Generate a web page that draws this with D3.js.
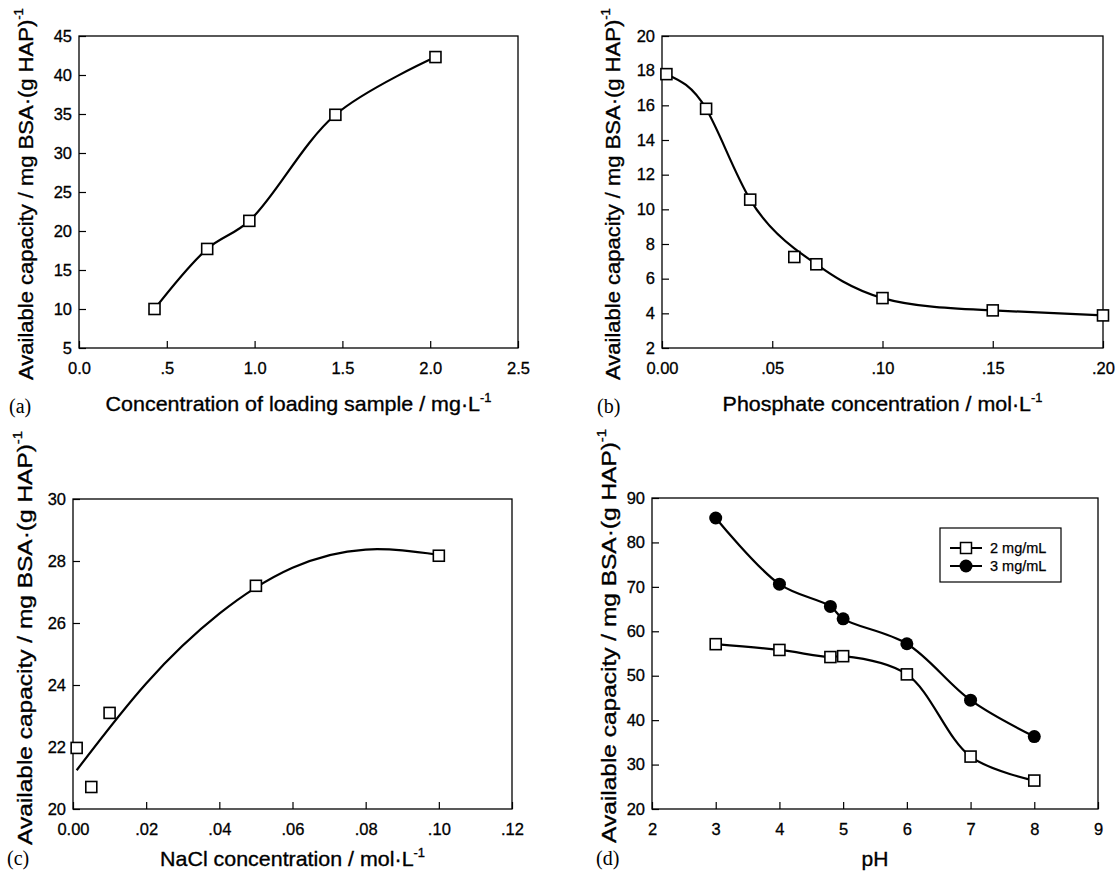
<!DOCTYPE html>
<html><head><meta charset="utf-8">
<script src="https://cdn.jsdelivr.net/npm/d3@7"></script>
<style>body{margin:0;background:#fff}text{font-family:"Liberation Sans",Arial,sans-serif;fill:#000}</style>
</head><body>
<svg id="chart" width="1117" height="877"></svg>
<script>
// ---------- DATA ----------
// (a) loading sample concentration
const aX = [0.43, 0.73, 0.97, 1.46, 2.03];
const aY = [10.0, 17.7, 21.3, 34.9, 42.3];
const aXTicks = [0, 0.5, 1.0, 1.5, 2.0, 2.5];
const aXLabels = ["0.0", ".5", "1.0", "1.5", "2.0", "2.5"];
const aYTicks = [5, 10, 15, 20, 25, 30, 35, 40, 45];

// (b) phosphate concentration
const bX = [0.002, 0.02, 0.04, 0.06, 0.07, 0.10, 0.15, 0.20];
const bY = [17.8, 15.8, 10.56, 7.25, 6.83, 4.88, 4.17, 3.88];
const bFitX = [0.002, 0.02, 0.04, 0.06, 0.07, 0.10, 0.15, 0.20];
const bFitY = [17.8, 15.8, 10.56, 7.75, 6.83, 4.88, 4.17, 3.88];
const bXTicks = [0, 0.05, 0.10, 0.15, 0.20];
const bXLabels = ["0.00", ".05", ".10", ".15", ".20"];
const bYTicks = [2, 4, 6, 8, 10, 12, 14, 16, 18, 20];

// (c) NaCl concentration
const cX = [0.001, 0.005, 0.01, 0.05, 0.10];
const cY = [21.97, 20.71, 23.10, 27.2, 28.17];
const cFitX = [0.001, 0.02, 0.04, 0.06, 0.08, 0.10];
const cFitY = [21.25, 24.05, 26.3, 27.78, 28.37, 28.2];
const cXTicks = [0, 0.02, 0.04, 0.06, 0.08, 0.10, 0.12];
const cXLabels = ["0.00", ".02", ".04", ".06", ".08", ".10", ".12"];
const cYTicks = [20, 22, 24, 26, 28, 30];

// (d) pH
const dX = [3, 4, 4.8, 5, 6, 7, 8];
const d2Y = [57.1, 55.8, 54.2, 54.4, 50.3, 31.8, 26.4];   // 2 mg/mL
const d3Y = [85.5, 70.6, 65.6, 62.8, 57.2, 44.5, 36.3];   // 3 mg/mL
const dSeries = ["2 mg/mL", "3 mg/mL"];
const dXTicks = [2, 3, 4, 5, 6, 7, 8, 9];
const dXLabels = ["2", "3", "4", "5", "6", "7", "8", "9"];
const dYTicks = [20, 30, 40, 50, 60, 70, 80, 90];

const yTitle = "Available capacity / mg BSA\u00B7(g HAP)";

// ---------- DRAW ----------
const svg = d3.select("#chart");
const FONT = '"Liberation Sans",Arial,sans-serif';

function scaledText(parent, str, sup, size, targetW, tx, ty, rot, anchor, dy) {
  const t = parent.append("text").attr("font-size", size).attr("text-anchor", anchor || "middle")
    .attr("stroke", "#000").attr("stroke-width", 0.35);
  if (dy) t.attr("dy", dy);
  t.append("tspan").text(str);
  if (sup) t.append("tspan").attr("font-size", size * 0.6).attr("dy", -size * 0.45).text(sup);
  const w = t.node().getBBox().width;
  const s = targetW ? targetW / w : 1;
  t.attr("transform", `translate(${tx},${ty})` + (rot ? ` rotate(${rot})` : "") + ` scale(${s},1)`);
  return t;
}

function panel(cfg) {
  const g = svg.append("g");
  const x = d3.scaleLinear().domain(cfg.xDomain).range([cfg.x0, cfg.x1]);
  const y = d3.scaleLinear().domain(cfg.yDomain).range([cfg.y1, cfg.y0]);

  const xa = g.append("g").attr("transform", `translate(0,${cfg.y1})`)
    .call(d3.axisBottom(x).tickValues(cfg.xTicks).tickFormat((d, i) => cfg.xLabels[i])
      .tickSizeInner(-7).tickSizeOuter(0).tickPadding(14));
  xa.select(".domain").remove();
  xa.selectAll("line").attr("stroke", "#000").attr("stroke-width", 1.2);
  xa.selectAll("text").attr("font-size", 16.5).attr("font-family", FONT)
    .attr("stroke", "#000").attr("stroke-width", 0.3);

  const ya = g.append("g").attr("transform", `translate(${cfg.x0},0)`)
    .call(d3.axisLeft(y).tickValues(cfg.yTicks).tickFormat(d3.format("d"))
      .tickSizeInner(-7).tickSizeOuter(0).tickPadding(7));
  ya.select(".domain").remove();
  ya.selectAll("line").attr("stroke", "#000").attr("stroke-width", 1.2);
  ya.selectAll("text").attr("font-size", 16.5).attr("font-family", FONT)
    .attr("stroke", "#000").attr("stroke-width", 0.3);

  g.append("rect").attr("x", cfg.x0).attr("y", cfg.y0)
    .attr("width", cfg.x1 - cfg.x0).attr("height", cfg.y1 - cfg.y0)
    .attr("fill", "none").attr("stroke", "#000").attr("stroke-width", 1.3);

  // titles
  scaledText(g, cfg.xTitle, cfg.xSup, 21, cfg.xTitleW, (cfg.x0 + cfg.x1) / 2, cfg.xTitleY, 0, "middle");
  scaledText(g, yTitle, "-1", 21, cfg.yTitleW, cfg.yTitleX, cfg.yTitleY, -90, "middle", "0.36em");
  g.append("text").attr("x", cfg.labX).attr("y", cfg.labY).attr("font-size", 20)
    .style("font-family", '"Liberation Serif","Times New Roman",serif').text(cfg.label);

  return { g, x, y };
}

function drawLine(p, xs, ys, curve) {
  const pts = xs.map((v, i) => [v, ys[i]]);
  p.g.append("path").attr("d", d3.line().x(d => p.x(d[0])).y(d => p.y(d[1])).curve(curve)(pts))
    .attr("fill", "none").attr("stroke", "#000").attr("stroke-width", 2.2);
}
function drawSquares(p, xs, ys, sz) {
  sz = sz || 11;
  p.g.append("g").selectAll("rect").data(xs.map((v, i) => [v, ys[i]])).join("rect")
    .attr("x", d => p.x(d[0]) - sz / 2).attr("y", d => p.y(d[1]) - sz / 2)
    .attr("width", sz).attr("height", sz).attr("fill", "#fff").attr("stroke", "#000").attr("stroke-width", 1.6);
}
function drawCircles(p, xs, ys) {
  p.g.append("g").selectAll("circle").data(xs.map((v, i) => [v, ys[i]])).join("circle")
    .attr("cx", d => p.x(d[0])).attr("cy", d => p.y(d[1])).attr("r", 6.5).attr("fill", "#000");
}

// (a)
const pa = panel({ x0: 79, x1: 518, y0: 36, y1: 348, xDomain: [0, 2.5], yDomain: [5, 45],
  xTicks: aXTicks, xLabels: aXLabels, yTicks: aYTicks,
  xTitle: "Concentration of loading sample / mg\u00B7L", xSup: "-1", xTitleW: 386, xTitleY: 411,
  yTitleW: 372, yTitleX: 25, yTitleY: 194, label: "(a)", labX: 9, labY: 413 });
drawLine(pa, aX, aY, d3.curveCatmullRom.alpha(0.5));
drawSquares(pa, aX, aY);

// (b)
const pb = panel({ x0: 662, x1: 1103, y0: 36, y1: 348, xDomain: [0, 0.20], yDomain: [2, 20],
  xTicks: bXTicks, xLabels: bXLabels, yTicks: bYTicks,
  xTitle: "Phosphate concentration / mol\u00B7L", xSup: "-1", xTitleW: 320, xTitleY: 411,
  yTitleW: 372, yTitleX: 612, yTitleY: 194, label: "(b)", labX: 597, labY: 413 });
drawLine(pb, bFitX, bFitY, d3.curveNatural);
drawSquares(pb, bX, bY);

// (c)
const pc = panel({ x0: 73, x1: 512, y0: 499, y1: 809, xDomain: [0, 0.12], yDomain: [20, 30],
  xTicks: cXTicks, xLabels: cXLabels, yTicks: cYTicks,
  xTitle: "NaCl concentration / mol\u00B7L", xSup: "-1", xTitleW: 265, xTitleY: 866,
  yTitleW: 414, yTitleX: 24, yTitleY: 638, label: "(c)", labX: 7, labY: 865 });
drawLine(pc, cFitX, cFitY, d3.curveNatural);
drawSquares(pc, cX, cY);

// (d)
const pd = panel({ x0: 652, x1: 1098, y0: 498, y1: 809, xDomain: [2, 9], yDomain: [20, 90],
  xTicks: dXTicks, xLabels: dXLabels, yTicks: dYTicks,
  xTitle: "pH", xSup: null, xTitleW: 0, xTitleY: 866,
  yTitleW: 414, yTitleX: 608, yTitleY: 636, label: "(d)", labX: 596, labY: 865 });
drawLine(pd, dX, d3Y, d3.curveCatmullRom.alpha(0.5));
drawLine(pd, dX, d2Y, d3.curveCatmullRom.alpha(0.5));
drawSquares(pd, dX, d2Y);
drawCircles(pd, dX, d3Y);

// legend (d)
const lg = pd.g.append("g");
lg.append("rect").attr("x", 940).attr("y", 528).attr("width", 121).attr("height", 54)
  .attr("fill", "#fff").attr("stroke", "#000").attr("stroke-width", 1.2);
dSeries.forEach((name, i) => {
  const yy = 548 + i * 18;
  lg.append("line").attr("x1", 950).attr("x2", 982).attr("y1", yy).attr("y2", yy)
    .attr("stroke", "#000").attr("stroke-width", 2);
  if (i === 0) lg.append("rect").attr("x", 966 - 5.5).attr("y", yy - 5.5).attr("width", 11).attr("height", 11)
    .attr("fill", "#fff").attr("stroke", "#000").attr("stroke-width", 1.5);
  else lg.append("circle").attr("cx", 966).attr("cy", yy).attr("r", 6.5).attr("fill", "#000");
  lg.append("text").attr("x", 990).attr("y", yy + 5).attr("font-size", 14.5)
    .attr("stroke", "#000").attr("stroke-width", 0.25).text(name);
});
</script>
</body></html>
